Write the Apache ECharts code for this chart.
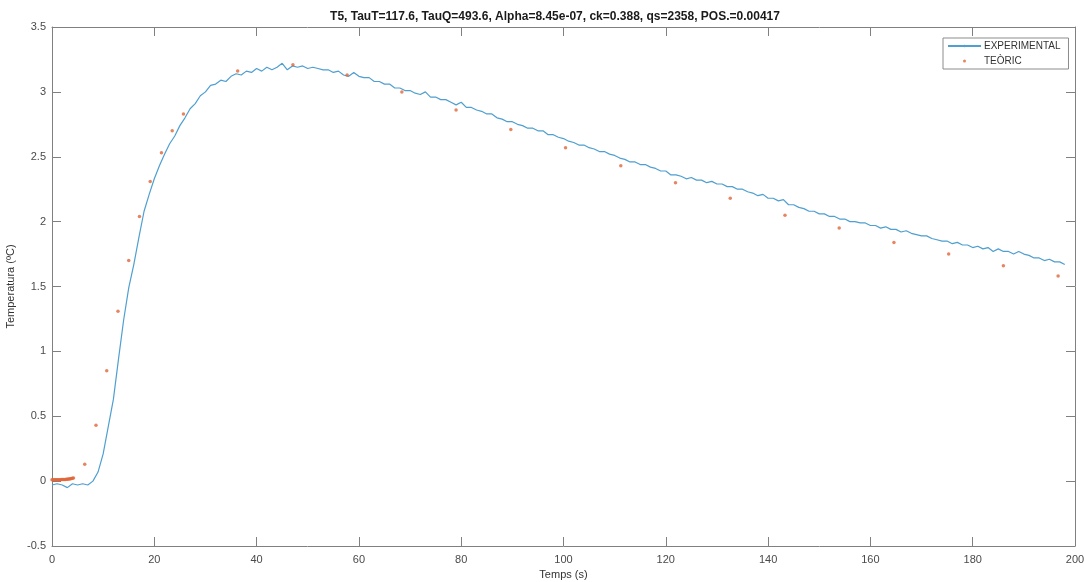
<!DOCTYPE html>
<html>
<head>
<meta charset="utf-8">
<script src="https://cdn.jsdelivr.net/npm/echarts@6/dist/echarts.min.js"></script>
<style>
html,body{margin:0;padding:0;background:#fff;}
#c{width:1084px;height:582px;}
</style>
</head>
<body>
<div id="c"></div>
<script>
// ---- data ----
const titleText = 'T5, TauT=117.6, TauQ=493.6, Alpha=8.45e-07, ck=0.388, qs=2358, POS.=0.00417';
const xTicks = [0,20,40,60,80,100,120,140,160,180,200];
const yTicks = [-0.5,0,0.5,1,1.5,2,2.5,3,3.5];

const expTime = [0,1,2,3,4,5,6,7,8,9,10,11,12,13,14,15,16,17,18,19,20,21,22,23,24,25,26,27,28,29,30,31,32,33,34,35,36,37,38,39,40,41,42,43,44,45,46,47,48,49,50,51,52,53,54,55,56,57,58,59,60,61,62,63,64,65,66,67,68,69,70,71,72,73,74,75,76,77,78,79,80,81,82,83,84,85,86,87,88,89,90,91,92,93,94,95,96,97,98,99,100,101,102,103,104,105,106,107,108,109,110,111,112,113,114,115,116,117,118,119,120,121,122,123,124,125,126,127,128,129,130,131,132,133,134,135,136,137,138,139,140,141,142,143,144,145,146,147,148,149,150,151,152,153,154,155,156,157,158,159,160,161,162,163,164,165,166,167,168,169,170,171,172,173,174,175,176,177,178,179,180,181,182,183,184,185,186,187,188,189,190,191,192,193,194,195,196,197,198];
const expTemp = [-0.03,-0.02,-0.03,-0.05,-0.02,-0.03,-0.02,-0.03,0.00,0.07,0.21,0.42,0.63,0.94,1.24,1.49,1.67,1.88,2.08,2.21,2.33,2.43,2.52,2.60,2.66,2.74,2.80,2.87,2.91,2.97,3.00,3.05,3.06,3.09,3.08,3.12,3.14,3.13,3.16,3.15,3.18,3.16,3.19,3.17,3.19,3.22,3.17,3.20,3.19,3.20,3.18,3.19,3.18,3.17,3.17,3.15,3.16,3.13,3.12,3.15,3.12,3.11,3.11,3.08,3.08,3.06,3.06,3.03,3.03,3.01,3.01,2.99,2.98,3.00,2.96,2.96,2.94,2.94,2.92,2.90,2.92,2.88,2.88,2.86,2.85,2.83,2.83,2.80,2.79,2.77,2.77,2.75,2.74,2.72,2.72,2.70,2.70,2.67,2.67,2.65,2.64,2.62,2.61,2.59,2.59,2.57,2.56,2.54,2.54,2.52,2.51,2.49,2.48,2.46,2.46,2.44,2.44,2.42,2.41,2.39,2.39,2.36,2.36,2.35,2.33,2.34,2.32,2.32,2.30,2.31,2.29,2.29,2.27,2.27,2.25,2.25,2.23,2.22,2.20,2.21,2.18,2.18,2.16,2.17,2.13,2.13,2.11,2.10,2.08,2.08,2.06,2.06,2.04,2.04,2.02,2.02,2.00,2.00,1.99,1.99,1.97,1.97,1.95,1.96,1.94,1.94,1.92,1.93,1.91,1.90,1.89,1.89,1.87,1.86,1.85,1.85,1.83,1.84,1.82,1.82,1.80,1.81,1.79,1.80,1.77,1.79,1.77,1.77,1.75,1.77,1.75,1.74,1.72,1.72,1.70,1.71,1.69,1.69,1.67];

const teoTime = [0,0.2,0.4,0.6,0.8,1.0,1.2,1.4,1.6,1.8,2.0,2.2,2.4,2.6,2.8,3.0,3.2,3.4,3.6,3.8,4.0,4.2,6.4,8.6,10.7,12.9,15.0,17.1,19.2,21.4,23.5,25.7,36.3,47.1,57.7,68.4,79.0,89.7,100.4,111.2,121.9,132.6,143.3,153.9,164.6,175.3,186.0,196.7];
const teoTemp = [0.010,0.010,0.010,0.010,0.010,0.010,0.011,0.011,0.011,0.012,0.012,0.012,0.013,0.013,0.014,0.015,0.016,0.017,0.018,0.020,0.022,0.025,0.13,0.43,0.85,1.31,1.70,2.04,2.31,2.53,2.70,2.83,3.16,3.21,3.13,3.00,2.86,2.71,2.57,2.43,2.30,2.18,2.05,1.95,1.84,1.75,1.66,1.58];

// ---- chart ----
const expData = expTime.map((t,i)=>[t, expTemp[i]]);
const teoData = teoTime.map((t,i)=>[t, teoTemp[i]]);

const FONT = 'Liberation Sans, Arial, sans-serif';
const AX = '#808080';
const LBL = '#4a4a4a';

const chart = echarts.init(document.getElementById('c'), null, {renderer:'canvas'});
const baseX = {
  type:'value', min:0, max:200, interval:20,
  axisLine:{show:true, onZero:false, lineStyle:{color:AX, width:1}},
  axisTick:{show:true, inside:true, length:9, lineStyle:{color:AX}},
  splitLine:{show:false}
};
const baseY = {
  type:'value', min:-0.5, max:3.5, interval:0.5,
  axisLine:{show:true, onZero:false, lineStyle:{color:AX, width:1}},
  axisTick:{show:true, inside:true, length:9, lineStyle:{color:AX}},
  splitLine:{show:false}
};
chart.setOption({
  animation:false,
  backgroundColor:'#ffffff',
  title:{
    text:titleText, left:550, textAlign:'center', top:6,
    textStyle:{fontFamily:FONT, fontSize:12, fontWeight:'bold', color:'#1a1a1a'}
  },
  grid:{left:52, right:9, top:27, bottom:36, containLabel:false, outerBoundsMode:'none'},
  legend:{
    orient:'vertical', left:943, top:38,
    itemWidth:33, itemHeight:3, itemGap:5,
    padding:[3,8,3,4],
    borderColor:'#8c8c8c', borderWidth:1, backgroundColor:'#fff',
    textStyle:{fontFamily:FONT, fontSize:10, color:'#333', padding:[0,0,0,-2]},
    data:[{name:'EXPERIMENTAL'},{name:'TEÒRIC', icon:'circle'}]
  },
  xAxis:[
    Object.assign({}, baseX, {
      position:'bottom',
      name:'Temps (s)', nameLocation:'middle', nameGap:23,
      nameTextStyle:{fontFamily:FONT, fontSize:11, color:'#333'},
      axisLabel:{show:true, margin:8, fontFamily:FONT, fontSize:11, color:LBL,
        formatter:v=>xTicks.indexOf(v)>=0?String(v):''}
    }),
    Object.assign({}, baseX, {position:'top', axisLabel:{show:false}})
  ],
  yAxis:[
    Object.assign({}, baseY, {
      position:'left',
      name:'Temperatura (ºC)', nameLocation:'middle', nameGap:31,
      nameTextStyle:{fontFamily:FONT, fontSize:11, color:'#333'},
      axisLabel:{show:true, margin:6, fontFamily:FONT, fontSize:11, color:LBL,
        formatter:v=>yTicks.indexOf(v)>=0?String(v):''}
    }),
    Object.assign({}, baseY, {position:'right', axisLabel:{show:false}})
  ],
  series:[
    {
      name:'EXPERIMENTAL', type:'line', xAxisIndex:0, yAxisIndex:0,
      data:expData, symbol:'none', showSymbol:false,
      lineStyle:{color:'#4f9fd0', width:1.2},
      itemStyle:{color:'#4f9fd0'},
      z:2
    },
    {
      name:'TEÒRIC', type:'scatter', xAxisIndex:0, yAxisIndex:0,
      data:teoData, symbol:'circle', symbolSize:3.5,
      itemStyle:{color:'#e0673a'},
      z:3
    }
  ]
});
</script>
</body>
</html>
